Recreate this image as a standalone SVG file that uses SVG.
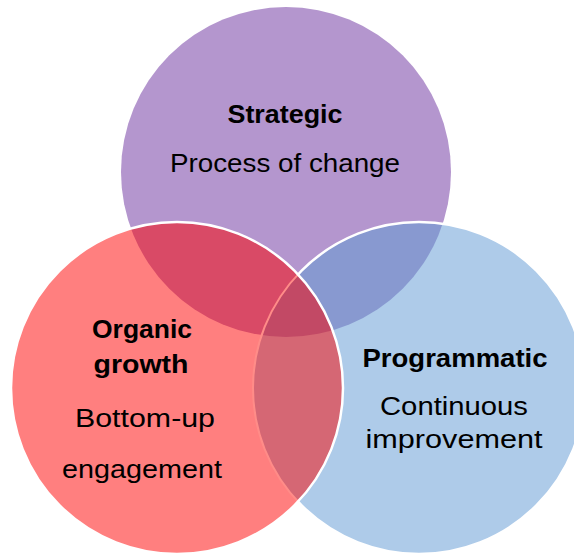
<svg xmlns="http://www.w3.org/2000/svg" width="574" height="554" viewBox="0 0 574 554">
<style>
.t{font-family:"Liberation Sans",Arial,sans-serif;font-size:26px;fill:#000;text-anchor:middle}
.b{font-weight:bold}
</style>
<defs>
<clipPath id="cP"><circle cx="286" cy="172" r="165"/></clipPath>
<clipPath id="cB"><circle cx="419" cy="388" r="166"/></clipPath>
<clipPath id="cR"><circle cx="177" cy="388" r="166"/></clipPath>
</defs>
<rect width="574" height="554" fill="#fff"/>
<g id="strategic">
<circle cx="286" cy="172" r="165" fill="#B496CE"/>
</g>
<g id="programmatic">
<circle cx="419" cy="388" r="166" fill="#AECBE9"/>
<circle cx="419" cy="388" r="166" fill="#8899D0" clip-path="url(#cP)"/>
<circle cx="419" cy="388" r="166" fill="none" stroke="#fff" stroke-width="2.5"/>
</g>
<g id="organic">
<circle cx="177" cy="388" r="166" fill="#FF7F7F"/>
<g clip-path="url(#cR)">
<circle cx="286" cy="172" r="165" fill="#D94A66"/>
<circle cx="419" cy="388" r="166" fill="#D56774"/>
<g clip-path="url(#cP)"><circle cx="419" cy="388" r="166" fill="#C24965"/></g>
<circle cx="419" cy="388" r="166" fill="none" stroke="#FF8C88" stroke-width="2"/>
</g>
<circle cx="177" cy="388" r="166" fill="none" stroke="#fff" stroke-width="2.5"/>
</g>
<g id="labels">
<text class="t b" x="285" y="123" textLength="115" lengthAdjust="spacingAndGlyphs">Strategic</text>
<text class="t" x="285" y="172" textLength="230" lengthAdjust="spacingAndGlyphs">Process of change</text>
<text class="t b" x="142" y="338" textLength="100" lengthAdjust="spacingAndGlyphs">Organic</text>
<text class="t b" x="141" y="373" textLength="95" lengthAdjust="spacingAndGlyphs">growth</text>
<text class="t" x="145" y="427" textLength="140" lengthAdjust="spacingAndGlyphs">Bottom-up</text>
<text class="t" x="142" y="478" textLength="160" lengthAdjust="spacingAndGlyphs">engagement</text>
<text class="t b" x="455" y="367" textLength="185" lengthAdjust="spacingAndGlyphs">Programmatic</text>
<text class="t" x="454" y="415" textLength="148" lengthAdjust="spacingAndGlyphs">Continuous</text>
<text class="t" x="454" y="448" textLength="177" lengthAdjust="spacingAndGlyphs">improvement</text>
</g>
</svg>
